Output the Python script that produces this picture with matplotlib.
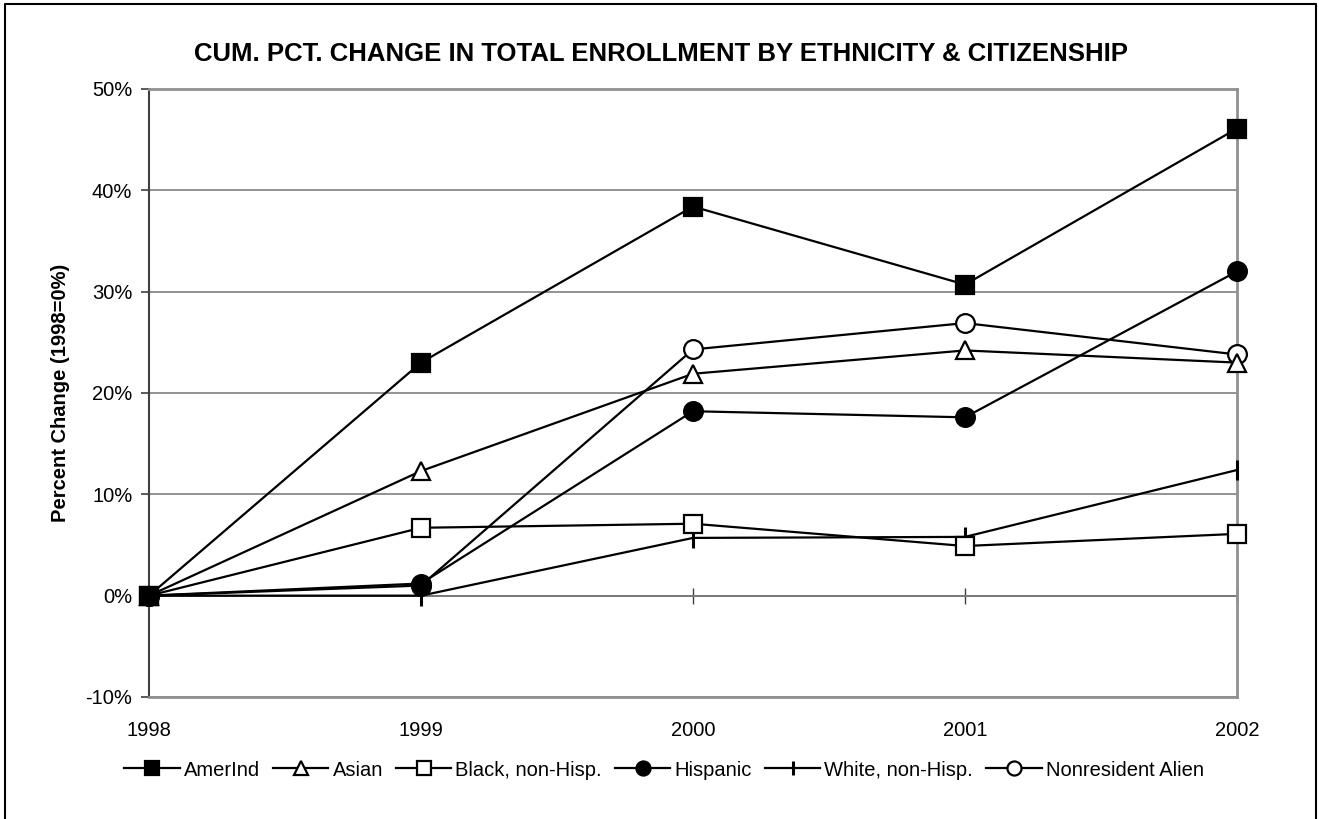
import matplotlib
matplotlib.use("Agg")
import matplotlib.pyplot as plt
from matplotlib.lines import Line2D

plt.rcParams['font.family'] = ['Liberation Sans', 'DejaVu Sans']

# === data ===
years = [1998, 1999, 2000, 2001, 2002]
amerind = [0.0, 23.0, 38.4, 30.7, 46.1]
asian = [0.0, 12.3, 21.9, 24.2, 23.0]
black = [0.0, 6.7, 7.1, 4.9, 6.1]
hispanic = [0.0, 1.2, 18.2, 17.6, 32.0]
white = [0.0, 0.0, 5.7, 5.8, 12.4]
nonres = [0.0, 1.0, 24.3, 26.9, 23.8]

series = [
    ("AmerInd", amerind, dict(marker="s", mfc="black", ms=12.5)),
    ("Asian", asian, dict(marker="^", mfc="white", ms=12.5)),
    ("Black, non-Hisp.", black, dict(marker="s", mfc="white", ms=12.5)),
    ("Hispanic", hispanic, dict(marker="o", mfc="black", ms=13.5)),
    ("White, non-Hisp.", white, dict(marker="|", mfc="black", ms=14)),
    ("Nonresident Alien", nonres, dict(marker="o", mfc="white", ms=13.5)),
]

fig = plt.figure(figsize=(13.19, 8.19), dpi=100)
ax = fig.add_axes([149 / 1319, 1 - 697 / 819, (1237 - 149) / 1319, (697 - 89) / 819])

# outer chart frame (left, top, right)
fig.add_artist(Line2D([5 / 1319, 5 / 1319, 1316 / 1319, 1316 / 1319],
                      [0, 1 - 4 / 819, 1 - 4 / 819, 0],
                      transform=fig.transFigure, color="black", lw=1.5))

x = list(range(len(years)))
handles = []
n = len(series)
for i, (name, vals, st) in enumerate(series):
    mew = 2.2 if st["marker"] == "|" else 1.6
    # earlier series sit on top where markers overlap (as in the original)
    ax.plot(x, vals, color="black", lw=1.6, marker=st["marker"], ms=st["ms"],
            mfc=st["mfc"], mec="black", mew=mew, clip_on=False, zorder=3 + (n - i) * 0.1)
    handles.append(Line2D([], [], color="black", lw=1.6, marker=st["marker"],
                          ms=st["ms"] * 0.75, mfc=st["mfc"], mec="black", mew=mew))

ax.set_xlim(0, len(years) - 1)
ax.set_ylim(-10, 50)
ax.set_yticks(range(-10, 51, 10))
ax.set_yticklabels([f"{v}%" for v in range(-10, 51, 10)])
ax.set_xticks(x)
ax.set_xticklabels([str(y) for y in years])
ax.tick_params(axis="x", length=0, pad=17, labelsize=14.5)
ax.tick_params(axis="y", length=6, width=1.2, color="#404040", labelsize=14.5, pad=6)

ax.yaxis.grid(True, color="#808080", lw=1.2)
ax.set_axisbelow(True)
for s in ["top", "right", "bottom"]:
    ax.spines[s].set_color("#909090")
    ax.spines[s].set_linewidth(2)
ax.spines["left"].set_color("#404040")
ax.spines["left"].set_linewidth(1.5)

# category axis crosses at 0%
zero = ax.secondary_xaxis(1 / 6)
zero.set_xticks(x)
zero.set_xticklabels([])
zero.tick_params(direction="inout", length=12, width=1, color="#404040")
zero.spines["bottom"].set_color("#404040")
zero.spines["bottom"].set_linewidth(1.2)

ax.set_ylabel("Percent Change (1998=0%)", fontsize=14.5, fontweight="bold", labelpad=11)
fig.text(661 / 1319, 1 - 54 / 819,
         "CUM. PCT. CHANGE IN TOTAL ENROLLMENT BY ETHNICITY & CITIZENSHIP",
         ha="center", va="center", fontsize=18.5, fontweight="bold")

fig.legend(handles=handles, labels=[s[0] for s in series], loc="center",
           bbox_to_anchor=(664 / 1319, 1 - 770 / 819), ncol=6,
           frameon=False, fontsize=14.5, handlelength=2.75, handletextpad=0.2,
           columnspacing=0.65)

fig.savefig("out.png", dpi=100)
